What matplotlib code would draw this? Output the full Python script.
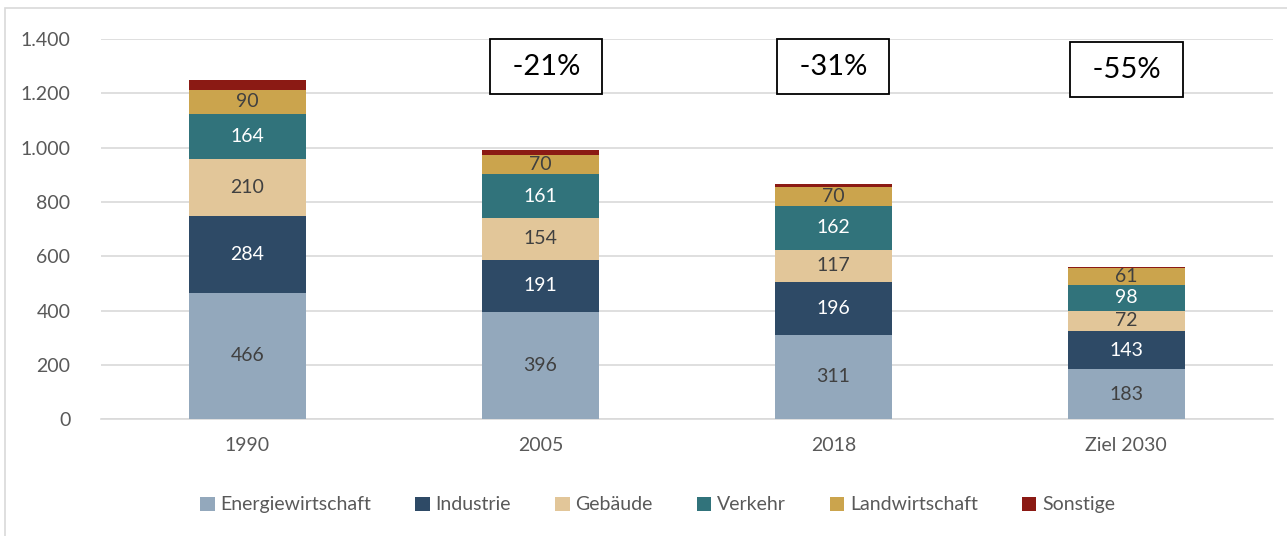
import matplotlib

matplotlib.use("Agg")
import matplotlib.pyplot as plt
import numpy as np
from matplotlib.patches import Rectangle

plt.rcParams["font.family"] = ["Lato", "DejaVu Sans"]

categories = ["1990", "2005", "2018", "Ziel 2030"]
sectors = ["Energiewirtschaft", "Industrie", "Gebäude", "Verkehr", "Landwirtschaft", "Sonstige"]
energie = [466, 396, 311, 183]
industrie = [284, 191, 196, 143]
gebaeude = [210, 154, 117, 72]
verkehr = [164, 161, 162, 98]
landwirtschaft = [90, 70, 70, 61]
sonstige = [37, 20, 10, 5]
reductions = ["", "-21%", "-31%", "-55%"]
box_y = [None, 1298, 1298, 1287]

colors = ["#93A8BC", "#2E4A66", "#E2C699", "#31737B", "#CBA44D", "#8B1A14"]
label_colors = ["#404040", "white", "#404040", "white", "#404040", None]

series = [energie, industrie, gebaeude, verkehr, landwirtschaft, sonstige]

fig = plt.figure(figsize=(12.87, 5.36), dpi=100)
ax = fig.add_axes([0.0785, 0.218, 0.9105, 0.709])

x = np.arange(len(categories))
bottom = np.zeros(len(categories))
for name, vals, col, lcol in zip(sectors, series, colors, label_colors):
    vals = np.array(vals, dtype=float)
    ax.bar(x, vals, 0.4, bottom=bottom, color=col, label=name, zorder=3)
    if lcol is not None:
        for xi, b, v in zip(x, bottom, vals):
            ax.text(xi, b + v / 2, f"{int(v)}", ha="center", va="center",
                    color=lcol, fontsize=14, zorder=4)
    bottom += vals

for xi, txt, yy in zip(x, reductions, box_y):
    if txt:
        ax.text(xi + (0.02 if xi == 1 else 0), yy, f" {txt} ", ha="center", va="center",
                fontsize=21, color="black", zorder=5,
                bbox=dict(boxstyle="square,pad=0.5", fc="white", ec="black", lw=1.3))

ax.set_xlim(-0.5, len(categories) - 0.5)
ax.set_ylim(0, 1400)
ax.set_yticks(np.arange(0, 1401, 200))
ax.set_yticklabels([f"{v:,}".replace(",", ".") for v in range(0, 1401, 200)])
ax.set_xticks(x)
ax.set_xticklabels(categories)
ax.tick_params(axis="both", length=0, labelsize=14, colors="#595959")
ax.tick_params(axis="x", pad=13)
ax.tick_params(axis="y", pad=22)
ax.grid(axis="y", color="#D9D9D9", lw=1.2, zorder=0)
for s in ["top", "right", "left"]:
    ax.spines[s].set_visible(False)
ax.spines["bottom"].set_color("#D9D9D9")
ax.spines["bottom"].set_linewidth(1.2)

leg = fig.legend(loc="center", bbox_to_anchor=(0.511, 0.058), ncol=6, frameon=False,
                 fontsize=14, handlelength=0.75, handleheight=0.75, handletextpad=0.3,
                 columnspacing=2.25)
for t in leg.get_texts():
    t.set_color("#595959")

fig.patches.append(Rectangle((0.004, -0.01), 1.0, 0.995, transform=fig.transFigure,
                             fill=False, ec="#D9D9D9", lw=1.2))

fig.savefig("out.png", dpi=100)
